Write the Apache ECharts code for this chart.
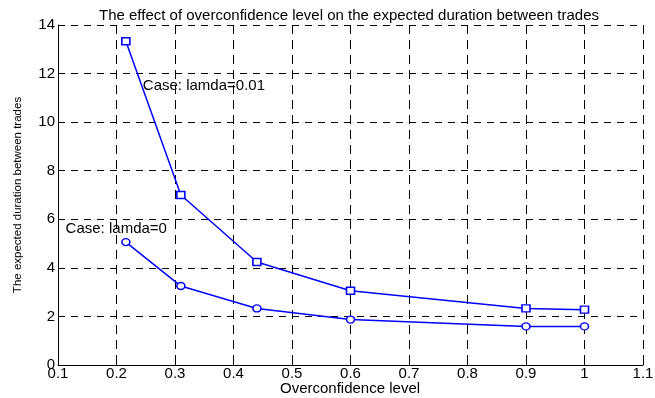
<!DOCTYPE html>
<html>
<head>
<meta charset="utf-8">
<script src="https://cdn.jsdelivr.net/npm/echarts@6/dist/echarts.min.js"></script>
<style>html,body{margin:0;padding:0;background:#fff}#c{width:655px;height:398px}</style>
</head>
<body>
<div id="c"></div>
<script>
var overconfidence = [0.216, 0.31, 0.44, 0.6, 0.9, 1.0];
var durationLamda001 = [13.33, 7.0, 4.24, 3.06, 2.33, 2.28];
var durationLamda0 = [5.06, 3.25, 2.33, 1.87, 1.59, 1.59];
var titleText = 'The effect of overconfidence level on the expected duration between trades';
var xName = 'Overconfidence level';
var yName = 'The expected duration between trades';
var note1 = {text: 'Case: lamda=0.01', x: 0.245, y: 11.5};
var note2 = {text: 'Case: lamda=0', x: 0.113, y: 5.62};

var FONT = 'Liberation Sans';
function pairs(xs, ys){ return xs.map(function(x,i){ return [x, ys[i]]; }); }
function note(n){
  return {symbol:'rect', symbolSize:0, silent:true,
    data:[{coord:[n.x, n.y], label:{show:true, position:'right', distance:0, formatter:n.text, color:'#000', fontFamily:FONT, fontSize:15}}]};
}
var chart = echarts.init(document.getElementById('c'), null, {renderer:'canvas'});
chart.setOption({
  backgroundColor:'#fff',
  animation:false,
  title:[
    {text:titleText, left:94, top:3, textStyle:{fontFamily:FONT, fontSize:15, fontWeight:'normal', color:'#000'}},
    {text:xName, left:280, top:381, padding:0, textStyle:{fontFamily:FONT, fontSize:15, fontWeight:'normal', color:'#000'}}
  ],
  grid:{left:58, right:12, top:25, bottom:33, containLabel:false, outerBoundsMode:'none'},
  xAxis:{type:'value', min:0.1, max:1.1, interval:0.1,
    axisLine:{show:true, onZero:false, lineStyle:{color:'#000', width:1}},
    axisTick:{show:true, inside:true, length:4, lineStyle:{color:'#000'}},
    axisLabel:{fontFamily:FONT, fontSize:15, color:'#000', margin:1, formatter:function(v){return String(+v.toFixed(1));}},
    splitLine:{show:true, lineStyle:{color:'#000', type:[9,6], width:1}}},
  yAxis:{type:'value', min:0, max:14, interval:2,
    name:yName, nameLocation:'middle', nameGap:34, nameRotate:90, nameTextStyle:{fontFamily:FONT, fontSize:11.5, color:'#000'},
    axisLine:{show:true, onZero:false, lineStyle:{color:'#000', width:1}},
    axisTick:{show:true, inside:true, length:4, lineStyle:{color:'#000'}},
    axisLabel:{fontFamily:FONT, fontSize:15, color:'#000', margin:3},
    splitLine:{show:true, lineStyle:{color:'#000', type:[7,6], width:1}}},
  series:[
    {type:'line', name:'lamda=0.01', data:pairs(overconfidence, durationLamda001),
      symbol:'rect', symbolSize:[8,7], showAllSymbol:true,
      lineStyle:{color:'#0000ff', width:1.5},
      itemStyle:{color:'#fff', borderColor:'#0000ff', borderWidth:1.5},
      markPoint:note(note1)},
    {type:'line', name:'lamda=0', data:pairs(overconfidence, durationLamda0),
      symbol:'circle', symbolSize:[8,7], showAllSymbol:true,
      lineStyle:{color:'#0000ff', width:1.5},
      itemStyle:{color:'#fff', borderColor:'#0000ff', borderWidth:1.5},
      markPoint:note(note2)}
  ]
});
</script>
</body>
</html>
